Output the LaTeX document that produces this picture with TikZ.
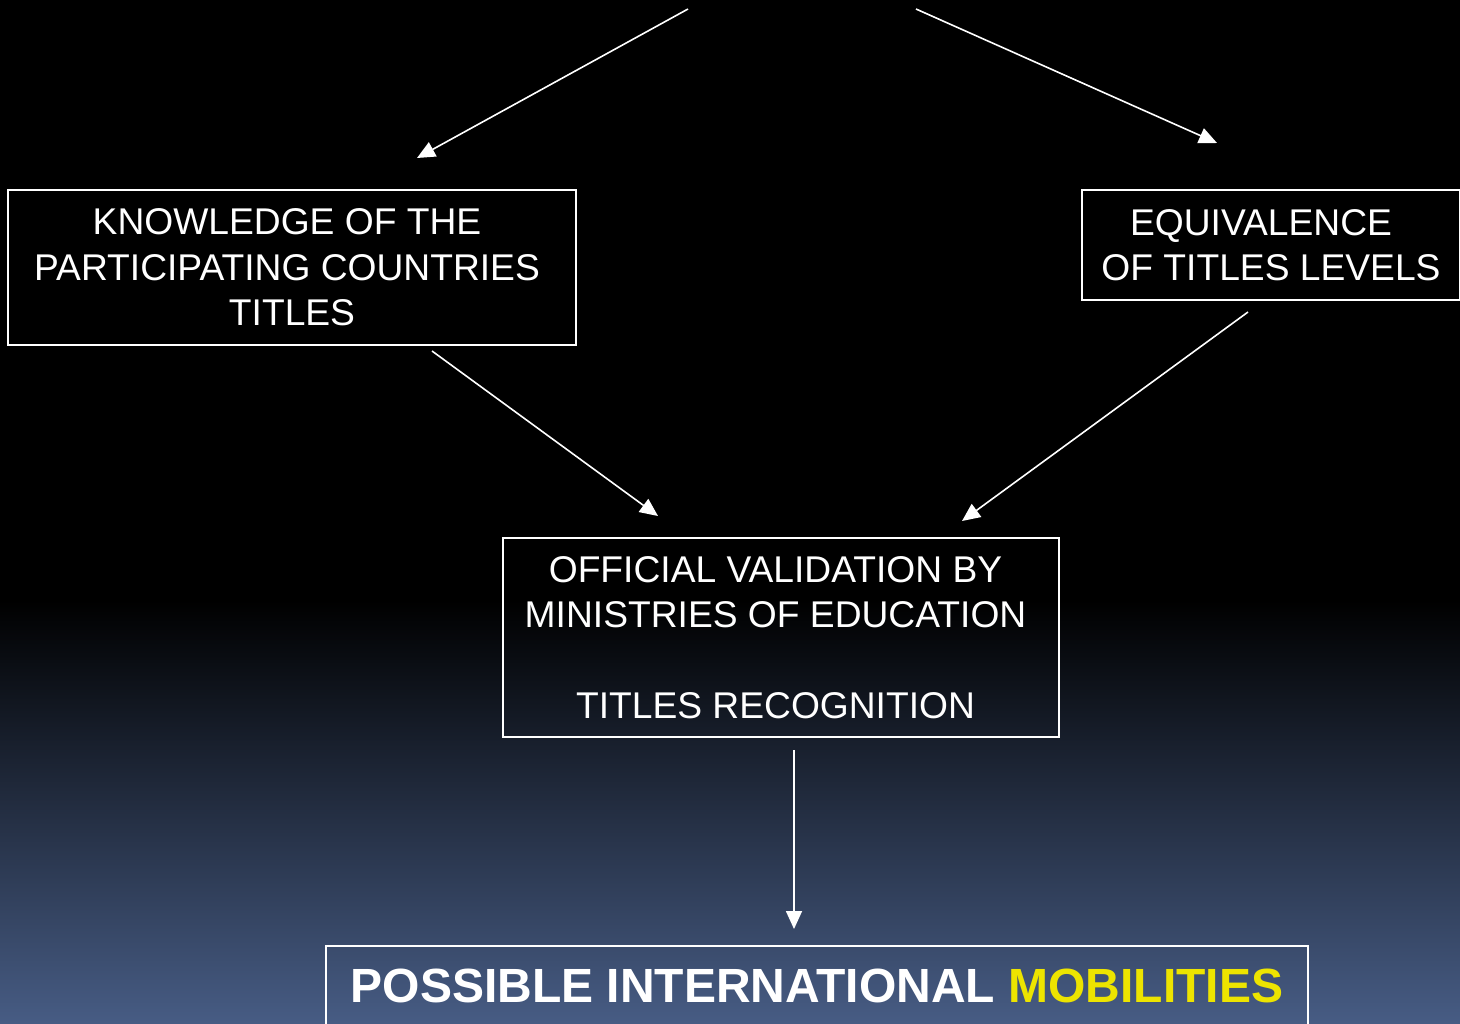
\documentclass[tikz,border=0pt]{standalone}
\usepackage{fontspec}
\setmainfont{Liberation Sans}
\usetikzlibrary{arrows.meta}
\definecolor{bgblue}{HTML}{475C84}
\definecolor{mobyellow}{HTML}{EDE400}
\tikzset{
  box/.style={draw=white, line width=1pt, rectangle, inner sep=0pt},
  lbl/.style={text=white, align=center, font=\fontsize{18.6pt}{22.75pt}\selectfont},
  conn/.style={draw=white, line width=0.8pt, -{Triangle[length=9pt,width=8pt]}},
}
\begin{document}
\begin{tikzpicture}[x=0.5pt,y=-0.5pt]
\useasboundingbox (0,0) rectangle (1460,1023);
\fill[black] (0,0) rectangle (1460,601);
\shade[top color=black, bottom color=bgblue] (0,600) rectangle (1460,1023);
% boxes
\node[box, minimum width=284pt, minimum height=77.5pt] (kb) at (292,267.5) {};
\node[lbl] (kt) at (287,267.5) {KNOWLEDGE OF THE\\PARTICIPATING COUNTRIES\\\hspace*{5pt}TITLES};
\node[box, minimum width=189pt, minimum height=55pt] (eb) at (1271,245) {};
\node[lbl] (et) at (eb.center) {EQUIVALENCE\hspace*{10pt}\\OF TITLES LEVELS};
\node[box, minimum width=278pt, minimum height=99.5pt] (ob) at (781,637.5) {};
\node[lbl] (ot) at (775.5,637.5) {OFFICIAL VALIDATION BY\\MINISTRIES OF EDUCATION\\[22.75pt]TITLES RECOGNITION};
\node[box, minimum width=491pt, minimum height=50pt] (pb) at (817,996) {};
\node[text=white, font=\fontsize{24pt}{30pt}\selectfont\bfseries, inner sep=0pt] (pt) at (817,986) {POSSIBLE INTERNATIONAL \textcolor{mobyellow}{MOBILITIES}};
% connectors
\coordinate (s1) at (688,9);
\coordinate (e1) at (417,158);
\coordinate (s2) at (916,9);
\coordinate (e2) at (1217,143);
\coordinate (s3) at (432,351);
\coordinate (e3) at (658,516);
\coordinate (s4) at (1248,312);
\coordinate (e4) at (962,521);
\coordinate (s5) at (794,750);
\coordinate (e5) at (794,929);
\draw[conn] (s1) -- (e1);
\draw[conn] (s2) -- (e2);
\draw[conn] (s3) -- (e3);
\draw[conn] (s4) -- (e4);
\draw[conn] (s5) -- (e5);
\end{tikzpicture}
\end{document}
